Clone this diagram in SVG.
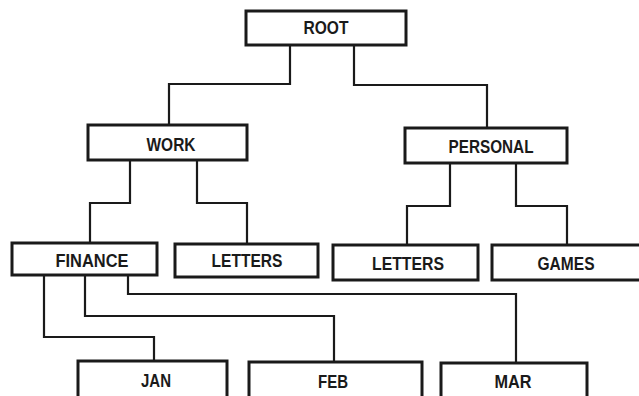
<svg xmlns="http://www.w3.org/2000/svg" width="639" height="396" viewBox="0 0 639 396">
<style>
.box{fill:#fff;stroke:#1a1a1a;stroke-width:3}
.lbl{font-family:"Liberation Sans",Arial,sans-serif;font-weight:bold;font-size:18px;fill:#1a1a1a;text-anchor:middle}
.con{fill:none;stroke:#1a1a1a;stroke-width:2.2}
</style>
<rect width="639" height="396" fill="#fff"/>
<g id="connectors">
<path class="con" d="M290 45V84H169V125"/>
<path class="con" d="M354 45V85H487V128"/>
<path class="con" d="M130 160V203H90V243"/>
<path class="con" d="M197 160V203H247V244"/>
<path class="con" d="M450 163V206H407V245"/>
<path class="con" d="M516 163V206H567V245"/>
<path class="con" d="M44 275V337H154V361"/>
<path class="con" d="M85 275V316H334V362"/>
<path class="con" d="M128 275V294H516V363"/>
</g>
<g id="root"><rect class="box" x="246" y="11" width="160" height="34"/><text class="lbl" x="326" y="34" textLength="45" lengthAdjust="spacingAndGlyphs">ROOT</text></g>
<g id="work"><rect class="box" x="88" y="125" width="159" height="35"/><text class="lbl" x="171" y="151" textLength="49" lengthAdjust="spacingAndGlyphs">WORK</text></g>
<g id="personal"><rect class="box" x="405" y="128" width="162" height="35"/><text class="lbl" x="491" y="153" textLength="85" lengthAdjust="spacingAndGlyphs">PERSONAL</text></g>
<g id="finance"><rect class="box" x="12" y="243" width="145" height="32"/><text class="lbl" x="92" y="267" textLength="73" lengthAdjust="spacingAndGlyphs">FINANCE</text></g>
<g id="letters-work"><rect class="box" x="175" y="244" width="143" height="33"/><text class="lbl" x="247" y="267" textLength="71" lengthAdjust="spacingAndGlyphs">LETTERS</text></g>
<g id="letters-personal"><rect class="box" x="333" y="245" width="145" height="35"/><text class="lbl" x="408" y="270" textLength="72" lengthAdjust="spacingAndGlyphs">LETTERS</text></g>
<g id="games"><rect class="box" x="492" y="245" width="153" height="35"/><text class="lbl" x="566" y="270" textLength="57" lengthAdjust="spacingAndGlyphs">GAMES</text></g>
<g id="jan"><rect class="box" x="78" y="361" width="149" height="40"/><text class="lbl" x="156" y="387" textLength="30" lengthAdjust="spacingAndGlyphs">JAN</text></g>
<g id="feb"><rect class="box" x="249" y="362" width="173" height="40"/><text class="lbl" x="333" y="388" textLength="30" lengthAdjust="spacingAndGlyphs">FEB</text></g>
<g id="mar"><rect class="box" x="441" y="363" width="146" height="40"/><text class="lbl" x="513" y="388" textLength="37" lengthAdjust="spacingAndGlyphs">MAR</text></g>
</svg>
